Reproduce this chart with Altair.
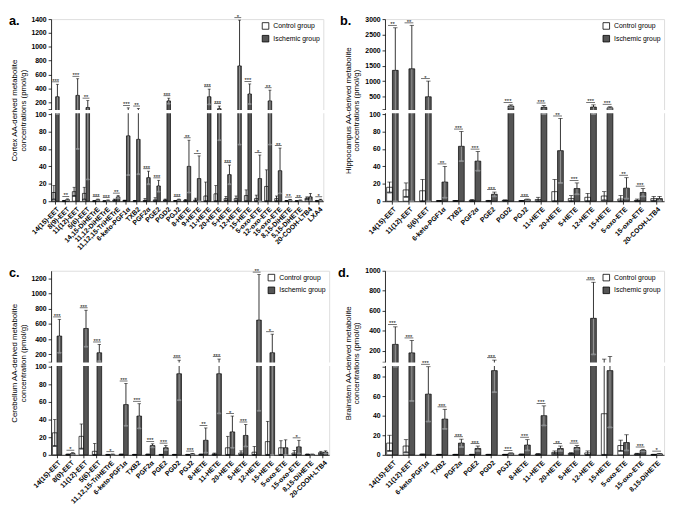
import altair as alt
import pandas as pd

FONT = "Liberation Sans"
ISCH_FILL = "#555555"
GROUPS = ["Control group", "Ischemic group"]

# ---------------- Panel a: Cortex ----------------
a_cats = ["14(15)-EET", "8(9)-EET", "11(12)-EET", "5(6)-EET", "14,15-DiHETrE", "11,12-DiHETrE",
          "11,12,15-TriHETrE", "6-keto-PGF1α", "TXB2", "PGF2α", "PGE2", "PGD2", "PGJ2", "8-HETE",
          "9-HETE", "11-HETE", "20-HETE", "5-HETE", "12-HETE", "15-HETE", "5-oxo-ETE", "12-oxo-ETE",
          "15-oxo-ETE", "8,15-DiHETE", "5,15-DiHETE", "20-COOH-LTB4", "LXA4"]
a_ctrl = [10, 0.5, 11, 9, 0.3, 0.2, 1.5, 0.8, 0.5, 1, 1.5, 1.5, 0.5, 1, 1.5, 6, 8.5, 3, 3, 6.5, 3, 17, 3, 0.5, 0.3, 3.5, 0.5]
a_ctrl_sd = [8, 0.5, 5, 7, 0.3, 0.2, 1, 0.5, 0.5, 2, 2.5, 1, 0.3, 1, 2, 16, 9.5, 2.5, 3, 6.5, 4, 19, 3, 0.3, 0.2, 1.5, 0.5]
a_isch = [280, 2, 300, 125, 2, 1, 5, 75, 71, 27, 17.5, 220, 2, 40, 26, 280, 108, 30.5, 725, 320, 26, 220, 35, 1.5, 1, 5, 1.5]
a_isch_sd = [180, 0.7, 240, 100, 0.5, 0.4, 1.5, 45, 40, 7.5, 6.5, 40, 0.5, 30, 26, 110, 38, 11, 660, 145, 27, 155, 26, 0.5, 0.4, 4, 0.8]
a_sig = ["***", "**", "***", "**", "***", "***", "**", "***", "**", "***", "***", "***", "***", "**", "*", "***",
         "***", "***", "*", "***", "*", "**", "**", "**", "**", "", "*"]
a_ticks = [0, 20, 40, 60, 80, 100, 101, 200, 400, 600, 800, 1000, 1200, 1400]

# ---------------- Panel b: Hippocampus ----------------
b_cats = ["14(15)-EET", "11(12)-EET", "5(6)-EET", "6-keto-PGF1α", "TXB2", "PGF2α", "PGE2", "PGD2", "PGJ2",
          "11-HETE", "20-HETE", "5-HETE", "12-HETE", "15-HETE", "5-oxo-ETE", "15-oxo-ETE", "20-COOH-LTB4"]
b_ctrl = [16, 13, 12, 0.5, 0.5, 1, 0.5, 1, 0.5, 2, 11, 3, 4.5, 6, 2.5, 1, 3]
b_ctrl_sd = [6, 8, 13, 0.3, 0.3, 1, 0.5, 0.5, 0.3, 2.5, 14, 3.5, 4.5, 5, 4, 1.5, 2.5]
b_isch = [1350, 1400, 500, 22, 63, 46, 8, 200, 2, 160, 58, 14.5, 170, 145, 15, 10, 3]
b_isch_sd = [1370, 1400, 505, 18, 17, 11, 2.5, 40, 0.5, 60, 37, 6.5, 70, 35, 12, 4.5, 2.5]
b_sig = ["**", "**", "*", "**", "***", "***", "***", "***", "***", "***", "**", "***", "***", "***", "**", "***", ""]
b_ticks = [0, 20, 40, 60, 80, 100, 101, 500, 1000, 1500, 2000, 2500, 3000]

# ---------------- Panel c: Cerebellum ----------------
c_cats = ["14(15)-EET", "8(9)-EET", "11(12)-EET", "5(6)-EET", "11,12,15-TriHETrE", "6-keto-PGF1α", "TXB2",
          "PGF2α", "PGE2", "PGD2", "PGJ2", "8-HETE", "11-HETE", "20-HETE", "5-HETE", "12-HETE", "15-HETE",
          "5-oxo-ETE", "15-oxo-ETE", "8,15-DiHETE", "20-COOH-LTB4"]
c_ctrl = [25, 0.5, 21, 4, 0.3, 0.5, 0.3, 0.5, 0.3, 0.3, 0.3, 0.5, 1, 8, 2, 3, 15, 8, 2, 0.5, 2.5]
c_ctrl_sd = [15, 0.3, 14, 9, 0.2, 0.3, 0.2, 0.3, 0.2, 0.2, 0.2, 0.3, 1, 13, 2.5, 6.5, 23, 8, 3, 0.3, 1.5]
c_isch = [440, 1.5, 540, 220, 0.5, 57, 44, 10.5, 8, 92, 1, 16.5, 92, 26, 22, 650, 220, 8, 9, 0.5, 3]
c_isch_sd = [220, 1, 240, 110, 0.3, 24, 14, 2, 2.5, 30, 0.5, 14, 45, 18, 12.5, 600, 245, 9, 7.5, 0.3, 1.5]
c_sig = ["***", "*", "***", "***", "*", "***", "***", "***", "***", "***", "***", "**", "***", "*", "***", "**",
         "*", "", "*", "", ""]
c_ticks = [0, 20, 40, 60, 80, 100, 101, 200, 400, 600, 800, 1000, 1200]

# ---------------- Panel d: Brainstem ----------------
d_cats = ["14(15)-EET", "11(12)-EET", "6-keto-PGF1α", "TXB2", "PGF2α", "PGE2", "PGD2", "PGJ2", "8-HETE",
          "11-HETE", "20-HETE", "5-HETE", "12-HETE", "15-HETE", "5-oxo-ETE", "15-oxo-ETE", "8,15-DiHETE"]
d_ctrl = [12, 9, 0.5, 0.3, 0.3, 0.3, 0.3, 0.3, 0.5, 0.7, 2.5, 1.5, 2, 42, 9.5, 1, 0.3]
d_ctrl_sd = [8, 6.5, 0.3, 0.2, 0.2, 0.2, 0.2, 0.2, 0.3, 0.5, 1.5, 0.7, 2, 76, 5.5, 0.6, 0.2]
d_isch = [265, 180, 62, 36.5, 12, 6.5, 86, 1.5, 10, 40, 6.5, 7.5, 525, 86, 12.5, 4.5, 1]
d_isch_sd = [175, 125, 28, 10, 4, 2.5, 22, 0.5, 5.5, 10, 2.5, 2, 360, 58, 8, 1, 0.3]
d_sig = ["***", "***", "***", "***", "***", "***", "***", "***", "***", "***", "**", "***", "***", "", "",
         "***", "*"]
d_ticks = [0, 20, 40, 60, 80, 90, 91, 200, 400, 600, 800, 1000]


def panel(label, title, cats, ctrl, ctrl_sd, isch, isch_sd, sig, split, top, ticks, hidden,
          width, height, sigw, cap, label_x):
    rows = []
    for c, m, s in zip(cats, ctrl, ctrl_sd):
        rows.append(dict(cat=c, group=GROUPS[0], mean=m, lo=max(m - s, 0), hi=m + s, lowcol="black"))
    for c, m, s in zip(cats, isch, isch_sd):
        rows.append(dict(cat=c, group=GROUPS[1], mean=m, lo=max(m - s, 0), hi=m + s, lowcol="#a6a6a6"))
    df = pd.DataFrame(rows)
    tops = [max(a + b, c + d) for a, b, c, d in zip(ctrl, ctrl_sd, isch, isch_sd)]
    sdf = pd.DataFrame(dict(cat=cats, top=tops, sig=sig))
    sdf = sdf[sdf["sig"] != ""]

    low_px = round(height * 91 / 190)
    gap = 5
    yscale = alt.Scale(domain=[0, split, split + 1, top],
                       range=[height, height - low_px, height - low_px - gap, 0],
                       nice=False, zero=False)
    xscale = alt.Scale(domain=cats, paddingInner=0.3, paddingOuter=0.1)
    xaxis = alt.Axis(title=None, labelAngle=-45, labelFontSize=7, labelFontWeight="bold", labelFont=FONT,
                     labelColor="black", tickSize=3, tickColor="black", domainColor="black",
                     tickWidth=0.8, domainWidth=0.8, labelPadding=1, labelOverlap=False)
    hid = ",".join(str(h) for h in hidden)
    yaxis = alt.Axis(values=ticks, tickCount=len(ticks) + 4, format="d",
                     labelExpr=f"indexof([{hid}], datum.value) >= 0 ? '' : datum.label",
                     title=title, titleFontSize=8, titleFontWeight="normal", titleFont=FONT, titleColor="black",
                     titlePadding=4, titleLineHeight=9, labelFontSize=7, labelFontWeight="bold", labelFont=FONT,
                     labelColor="black", labelPadding=2, tickSize=3, tickColor="black", domainColor="black",
                     tickWidth=0.8, domainWidth=0.8, grid=False, labelOverlap=False, labelFlush=False)

    x = alt.X("cat:N", scale=xscale, axis=xaxis)
    xo = alt.XOffset("group:N", scale=alt.Scale(domain=GROUPS, paddingInner=0, paddingOuter=0))
    base = alt.Chart(df)

    bars = base.mark_bar(stroke="black", strokeWidth=0.7).encode(
        x=x, xOffset=xo,
        y=alt.Y("mean:Q", scale=yscale, axis=yaxis),
        color=alt.Color("group:N", scale=alt.Scale(domain=GROUPS, range=["white", ISCH_FILL]),
                        legend=alt.Legend(orient="top-right", title=None, offset=3, padding=0, rowPadding=3,
                                          symbolType="square", symbolSize=45, symbolStrokeColor="black",
                                          symbolStrokeWidth=0.8, labelFontSize=7, labelFont=FONT,
                                          labelColor="black", labelOffset=4)),
    )
    err_lo = base.mark_rule(strokeWidth=0.8).encode(
        x=x, xOffset=xo, y=alt.Y("lo:Q"), y2="mean:Q", stroke=alt.Stroke("lowcol:N", scale=None))
    cap_lo = base.mark_tick(thickness=0.8, size=cap).encode(
        x=x, xOffset=xo, y=alt.Y("lo:Q"), stroke=alt.Stroke("lowcol:N", scale=None))
    err_hi = base.mark_rule(color="black", strokeWidth=0.8).encode(
        x=x, xOffset=xo, y=alt.Y("mean:Q"), y2="hi:Q")
    cap_hi = base.mark_tick(color="black", thickness=0.8, size=cap).encode(
        x=x, xOffset=xo, y=alt.Y("hi:Q"))

    band = alt.Chart(pd.DataFrame({"k": [0]})).mark_rect(color="white", stroke=None).encode(
        y=alt.datum(split + 0.15), y2=alt.datum(split + 0.85),
        x=alt.value(-4), x2=alt.value(width + 2))

    sline = alt.Chart(sdf).mark_tick(color="black", thickness=0.8, size=sigw, yOffset=-2.5).encode(
        x=x, y=alt.Y("top:Q"))
    stext = alt.Chart(sdf).mark_text(fontSize=6, font=FONT, baseline="alphabetic", dy=-1.5,
                                     color="black").encode(x=x, y=alt.Y("top:Q"), text="sig:N")

    lab = alt.Chart(pd.DataFrame({"t": [label]})).mark_text(
        align="left", baseline="top", fontSize=13, fontWeight="bold", font=FONT, color="black"
    ).encode(x=alt.value(label_x), y=alt.value(-4), text="t:N")

    return alt.layer(bars, err_lo, cap_lo, err_hi, cap_hi, band, sline, stext, lab).properties(
        width=width, height=height)


pa = panel("a.", ["Cortex AA-derived metabolite", "concentrations (pmol/g)"], a_cats, a_ctrl, a_ctrl_sd,
           a_isch, a_isch_sd, a_sig, 100, 1400, a_ticks, [101], 278, 186, 7, 3, -43)
pb = panel("b.", ["Hippocampus AA-derived metabolite", "concentrations (pmol/g)"], b_cats, b_ctrl, b_ctrl_sd,
           b_isch, b_isch_sd, b_sig, 100, 3000, b_ticks, [101], 285, 186, 9, 4.5, -46)
pc = panel("c.", ["Cerebellum AA-derived metabolite", "concentration (pmol/g)"], c_cats, c_ctrl, c_ctrl_sd,
           c_isch, c_isch_sd, c_sig, 100, 1300, c_ticks, [101], 284, 188, 8, 3.5, -43)
pd_ = panel("d.", ["Brainstem AA-derived metabolite", "concentrations (pmol/g)"], d_cats, d_ctrl, d_ctrl_sd,
            d_isch, d_isch_sd, d_sig, 90, 1000, d_ticks, [90, 91], 285, 188, 9, 4.5, -48)

chart = alt.concat(pa, pb, pc, pd_, columns=2, bounds="flush", align="each",
                   spacing={"row": 71, "column": 57}).resolve_scale(
    color="independent", x="independent", y="independent", xOffset="independent").resolve_legend(
    color="independent").properties(padding=0).configure_view(stroke=None).configure(
    font=FONT).configure_legend(labelColor="black")

chart.save("out.html", embed_options={"renderer": "svg", "actions": False})
